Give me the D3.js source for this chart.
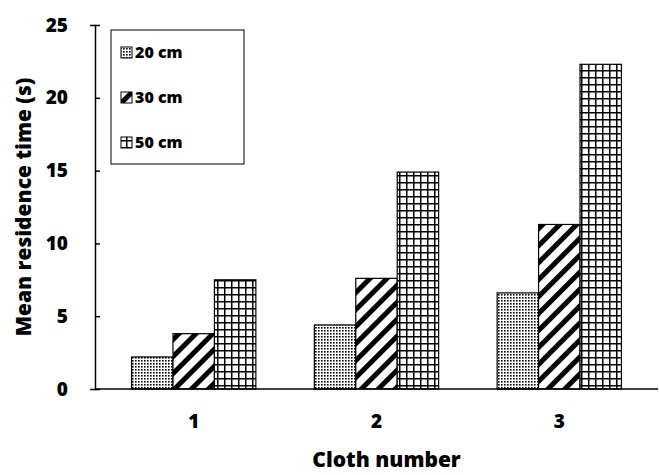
<!DOCTYPE html>
<html><head><meta charset="utf-8">
<script src="https://cdn.jsdelivr.net/npm/d3@7"></script>
<style>body{margin:0;background:#fff}text{font-family:"Open Sans",sans-serif;font-weight:bold}</style>
</head><body><svg id="c" width="659" height="475"></svg>
<script>
var categories = ["1", "2", "3"];
var series = ["20 cm", "30 cm", "50 cm"];
var values20 = [2.2, 4.4, 6.6];
var values30 = [3.8, 7.6, 11.3];
var values50 = [7.5, 14.9, 22.3];
var yTicks = [0, 5, 10, 15, 20, 25];

var svg = d3.select("#c"),
	m = {l: 95, t: 25, r: 658, b: 389};
var defs = svg.append("defs");
// dots
var p = defs.append("pattern").attr("id", "p0").attr("patternUnits", "userSpaceOnUse").attr("width", 3).attr("height", 3);
p.append("rect").attr("width", 3).attr("height", 3).attr("fill", "#fff");
p.append("rect").attr("width", 1.6).attr("height", 1.6).attr("fill", "#000");
// diagonal stripes
p = defs.append("pattern").attr("id", "p1").attr("patternUnits", "userSpaceOnUse").attr("width", 12).attr("height", 12).attr("patternTransform", "rotate(45)");
p.append("rect").attr("width", 12).attr("height", 12).attr("fill", "#fff");
p.append("rect").attr("width", 5).attr("height", 12).attr("fill", "#000");
// grid
p = defs.append("pattern").attr("id", "p2").attr("patternUnits", "userSpaceOnUse").attr("width", 7).attr("height", 7);
p.append("rect").attr("width", 7).attr("height", 7).attr("fill", "#fff");
p.append("path").attr("d", "M0,0.75H7M0.75,0V7").attr("stroke", "#000").attr("stroke-width", 1.5);

var x = d3.scaleBand().domain(categories).range([m.l, m.r]).paddingInner(0.32).paddingOuter(0.2);
var xs = d3.scaleBand().domain(series).range([0, x.bandwidth()]);
var y = d3.scaleLinear().domain([0, 25]).range([m.b, m.t]);
var all = [values20, values30, values50];

series.forEach(function(s, si){
	svg.append("g").selectAll("rect").data(all[si]).enter().append("rect")
		.attr("x", function(d, i){ return x(categories[i]) + xs(s); })
		.attr("y", function(d){ return y(d); })
		.attr("width", xs.bandwidth())
		.attr("height", function(d){ return y(0) - y(d); })
		.attr("fill", "url(#p" + si + ")").attr("stroke", "#000").attr("stroke-width", 1.2);
});

var ya = svg.append("g").attr("transform", "translate(" + m.l + ",0)")
	.call(d3.axisLeft(y).tickValues(yTicks).tickSize(5).tickPadding(22));
var xa = svg.append("g").attr("transform", "translate(0," + m.b + ")")
	.call(d3.axisBottom(x).tickSize(0).tickPadding(26));
[ya, xa].forEach(function(a){
	a.selectAll("path,line").attr("stroke", "#000").attr("stroke-width", 1.5);
	a.selectAll("text").attr("font-size", 19).attr("fill", "#000").style("font-family", "Open Sans").style("font-weight", "800");
});
xa.select(".domain").attr("d", "M" + m.l + ",0H" + m.r);
ya.selectAll(".tick line").attr("x2", 5);

svg.append("text").attr("x", (m.l + m.r) / 2 + 10).attr("y", 467).attr("text-anchor", "middle").attr("font-size", 21).style("font-weight", "800").text("Cloth number");
svg.append("text").attr("transform", "translate(31," + (m.t + m.b) / 2 + ") rotate(-90)").attr("text-anchor", "middle").attr("font-size", 21).style("font-weight", "800").text("Mean residence time (s)");

var lg = svg.append("g");
lg.append("rect").attr("x", 111).attr("y", 30).attr("width", 133).attr("height", 134).attr("fill", "#fff").attr("stroke", "#000").attr("stroke-width", 1);
series.forEach(function(s, i){
	var yy = 52 + i * 45;
	lg.append("rect").attr("x", 121).attr("y", yy - 5).attr("width", 11).attr("height", 11).attr("fill", "url(#p" + i + ")").attr("stroke", "#000");
	lg.append("text").attr("x", 135).attr("y", yy + 6).attr("font-size", 16).style("font-weight", "800").text(s);
});
</script></body></html>
